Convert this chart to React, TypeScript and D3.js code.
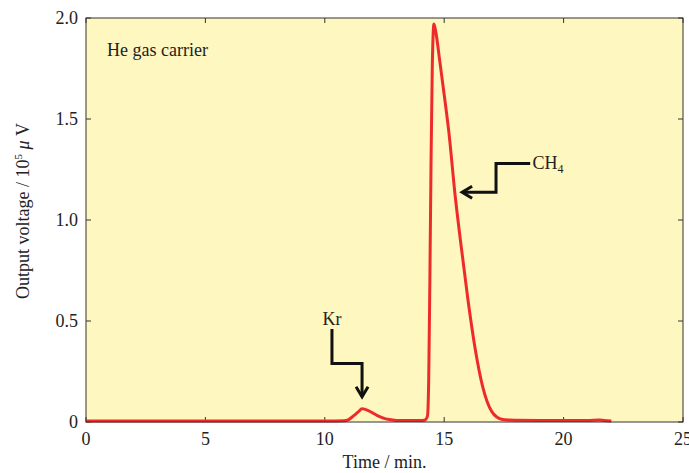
import React, { useEffect, useRef } from 'react';
import * as d3 from 'd3';

// chromatogram readings (time in min, output in 10^5 uV)
const times = [0, 2, 5, 8, 10, 10.8, 11.0, 11.2, 11.4, 11.56, 11.8, 12.0, 12.2, 12.4, 12.7, 13.0, 13.5, 14.0, 14.2, 14.3, 14.35, 14.4, 14.45, 14.5, 14.57, 14.65, 14.8, 15.0, 15.2, 15.45, 15.7, 16.0, 16.3, 16.6, 16.8, 17.0, 17.2, 17.4, 17.7, 18.0, 19.0, 20.0, 21.0, 21.5, 21.7, 22.0];
const voltages = [0.005, 0.005, 0.005, 0.005, 0.005, 0.006, 0.012, 0.03, 0.05, 0.065, 0.058, 0.045, 0.032, 0.022, 0.012, 0.008, 0.007, 0.007, 0.01, 0.03, 0.2, 0.7, 1.3, 1.75, 1.97, 1.93, 1.8, 1.62, 1.43, 1.13, 0.88, 0.6, 0.36, 0.18, 0.1, 0.05, 0.025, 0.014, 0.01, 0.009, 0.008, 0.008, 0.007, 0.01, 0.007, 0.005];

const xTicks = [0, 5, 10, 15, 20, 25];
const yTicks = [0, 0.5, 1.0, 1.5, 2.0];
const yTickLabels = ['0', '0.5', '1.0', '1.5', '2.0'];

// annotation paths in data units
const krArrow: [number, number][] = [[10.3, 0.46], [10.3, 0.29], [11.56, 0.29], [11.56, 0.125]];
const ch4Arrow: [number, number][] = [[18.6, 1.28], [17.17, 1.28], [17.17, 1.137], [15.75, 1.137]];

const App = () => {
  const ref = useRef<SVGSVGElement>(null);

  useEffect(() => {
    const width = 689;
    const height = 473;
    const margin = { top: 18, right: 6, bottom: 51, left: 86 };
    const w = width - margin.left - margin.right;
    const h = height - margin.top - margin.bottom;

    const svg = d3.select(ref.current);
    svg.selectAll('*').remove();

    const g = svg.append('g').attr('transform', `translate(${margin.left},${margin.top})`);

    const x = d3.scaleLinear().domain([0, 25]).range([0, w]);
    const y = d3.scaleLinear().domain([0, 2]).range([h, 0]);

    // plot background
    g.append('rect').attr('width', w).attr('height', h).attr('fill', '#fef7c0');

    const font = '"Liberation Serif", "Times New Roman", serif';
    const tickLen = 5;
    const axisColor = '#333';

    // ticks on all four sides, pointing inward
    const tg = g.append('g').attr('stroke', axisColor).attr('stroke-width', 1);
    xTicks.forEach(t => {
      tg.append('line').attr('x1', x(t)).attr('x2', x(t)).attr('y1', h).attr('y2', h - tickLen);
      tg.append('line').attr('x1', x(t)).attr('x2', x(t)).attr('y1', 0).attr('y2', tickLen);
    });
    yTicks.forEach(t => {
      tg.append('line').attr('x1', 0).attr('x2', tickLen).attr('y1', y(t)).attr('y2', y(t));
      tg.append('line').attr('x1', w).attr('x2', w - tickLen).attr('y1', y(t)).attr('y2', y(t));
    });

    // tick labels
    g.selectAll('.xl')
      .data(xTicks)
      .enter()
      .append('text')
      .attr('x', d => x(d))
      .attr('y', h + 23)
      .attr('text-anchor', 'middle')
      .style('font-family', font)
      .style('font-size', '18px')
      .attr('fill', '#222')
      .text(d => String(d));

    g.selectAll('.yl')
      .data(yTicks)
      .enter()
      .append('text')
      .attr('x', -8)
      .attr('y', d => y(d) + 6)
      .attr('text-anchor', 'end')
      .style('font-family', font)
      .style('font-size', '18px')
      .attr('fill', '#222')
      .text((d, i) => yTickLabels[i]);

    // the curve
    const line = d3.line<number>()
      .x((d, i) => x(times[i]))
      .y(d => y(d))
      .curve(d3.curveMonotoneX);

    g.append('path')
      .datum(voltages)
      .attr('d', line)
      .attr('fill', 'none')
      .attr('stroke', '#ee2b2b')
      .attr('stroke-width', 3)
      .attr('stroke-linejoin', 'round');

    // frame
    g.append('rect')
      .attr('width', w)
      .attr('height', h)
      .attr('fill', 'none')
      .attr('stroke', axisColor)
      .attr('stroke-width', 1);

    // arrows
    const arrowLine = d3.line<[number, number]>().x(d => x(d[0])).y(d => y(d[1]));
    [krArrow, ch4Arrow].forEach(pts => {
      g.append('path')
        .attr('d', arrowLine(pts))
        .attr('fill', 'none')
        .attr('stroke', '#111')
        .attr('stroke-width', 3);
    });
    // arrow heads
    const kTip = krArrow[krArrow.length - 1];
    g.append('path')
      .attr('d', `M${x(kTip[0]) - 6},${y(kTip[1]) - 10}L${x(kTip[0])},${y(kTip[1])}L${x(kTip[0]) + 6},${y(kTip[1]) - 10}`)
      .attr('fill', 'none').attr('stroke', '#111').attr('stroke-width', 3);
    const cTip = ch4Arrow[ch4Arrow.length - 1];
    g.append('path')
      .attr('d', `M${x(cTip[0]) + 10},${y(cTip[1]) - 6}L${x(cTip[0])},${y(cTip[1])}L${x(cTip[0]) + 10},${y(cTip[1]) + 6}`)
      .attr('fill', 'none').attr('stroke', '#111').attr('stroke-width', 3);

    // labels inside plot
    g.append('text')
      .attr('x', x(10.3))
      .attr('y', y(0.48))
      .attr('text-anchor', 'middle')
      .style('font-family', font)
      .style('font-size', '18px')
      .attr('fill', '#222')
      .text('Kr');

    const ch4 = g.append('text')
      .attr('x', x(18.7))
      .attr('y', y(1.28) + 6)
      .style('font-family', font)
      .style('font-size', '18px')
      .attr('fill', '#222');
    ch4.append('tspan').text('CH');
    ch4.append('tspan').attr('dy', 4).style('font-size', '12px').text('4');

    g.append('text')
      .attr('x', 21)
      .attr('y', 38)
      .style('font-family', font)
      .style('font-size', '18px')
      .attr('fill', '#222')
      .text('He gas carrier');

    // axis titles
    svg.append('text')
      .attr('x', margin.left + w / 2)
      .attr('y', height - 5)
      .attr('text-anchor', 'middle')
      .style('font-family', font)
      .style('font-size', '18px')
      .attr('fill', '#222')
      .text('Time / min.');

    const yt = svg.append('text')
      .attr('transform', `translate(29,211) rotate(-90)`)
      .attr('text-anchor', 'middle')
      .style('font-family', font)
      .style('font-size', '18px')
      .attr('fill', '#222');
    yt.append('tspan').text('Output voltage / 10');
    yt.append('tspan').attr('dy', -7).style('font-size', '11px').text('5');
    yt.append('tspan').attr('dy', 7).text(' ');
    yt.append('tspan').style('font-style', 'italic').text('μ');
    yt.append('tspan').text(' V');
  }, []);

  return (
    <svg
      ref={ref}
      width={689}
      height={473}
      style={{ position: 'absolute', left: 0, top: 0, background: '#fff' }}
    />
  );
};

export default App;
